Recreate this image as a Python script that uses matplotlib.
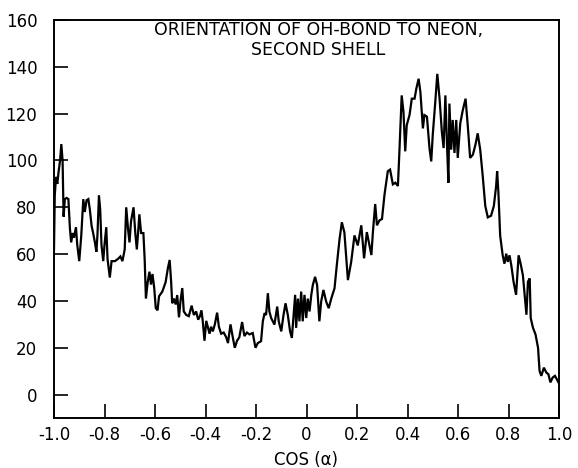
import matplotlib
matplotlib.use("Agg")
from matplotlib import pyplot as plt

# values
cos_alpha = [
  -1.0, -0.997, -0.992, -0.987, -0.982, -0.976, -0.971, -0.966, -0.962, -0.957,
  -0.95, -0.943, -0.937, -0.932, -0.926, -0.921, -0.913, -0.908, -0.9, -0.892,
  -0.884, -0.878, -0.871, -0.864, -0.858, -0.851, -0.845, -0.838, -0.832, -0.828,
  -0.822, -0.817, -0.812, -0.805, -0.8, -0.793, -0.788, -0.779, -0.772, -0.759,
  -0.746, -0.737, -0.729, -0.72, -0.714, -0.707, -0.701, -0.695, -0.685, -0.678,
  -0.672, -0.667, -0.662, -0.655, -0.646, -0.641, -0.636, -0.629, -0.622, -0.616,
  -0.61, -0.603, -0.597, -0.59, -0.584, -0.571, -0.558, -0.549, -0.542, -0.536,
  -0.532, -0.525, -0.518, -0.512, -0.505, -0.499, -0.492, -0.486, -0.476, -0.466,
  -0.455, -0.446, -0.437, -0.429, -0.422, -0.416, -0.411, -0.404, -0.397, -0.391,
  -0.384, -0.378, -0.371, -0.363, -0.354, -0.347, -0.338, -0.328, -0.318, -0.311,
  -0.301, -0.292, -0.284, -0.275, -0.266, -0.255, -0.246, -0.236,
  -0.226, -0.213, -0.202, -0.193, -0.180, -0.173, -0.166, -0.160, -0.153, -0.147,
  -0.140, -0.127, -0.116, -0.110, -0.100, -0.091, -0.083, -0.074, -0.065, -0.058,
  -0.051, -0.045, -0.041, -0.034, -0.028, -0.021, -0.015, -0.008, -0.001, 0.005,
  0.012, 0.019, 0.025, 0.034, 0.042, 0.051, 0.058, 0.067, 0.078, 0.088,
  0.098, 0.111, 0.120, 0.131, 0.140, 0.150, 0.164, 0.177, 0.190, 0.203,
  0.217, 0.228, 0.239, 0.257, 0.263, 0.272, 0.279, 0.289, 0.299,
  0.309, 0.322, 0.331, 0.342, 0.352, 0.362, 0.368, 0.377, 0.384, 0.391,
  0.397, 0.408, 0.417, 0.428, 0.435, 0.444, 0.451, 0.461, 0.467, 0.477,
  0.487, 0.494, 0.500, 0.510, 0.518, 0.527, 0.536, 0.543, 0.550, 0.556, 0.562,
  0.566, 0.573, 0.579, 0.586, 0.593, 0.599, 0.609, 0.619, 0.630, 0.639,
  0.648, 0.659, 0.669, 0.678, 0.688, 0.698, 0.708, 0.718, 0.731, 0.742,
  0.751, 0.755, 0.760, 0.767, 0.777, 0.784, 0.791, 0.797, 0.804, 0.811,
  0.820, 0.830, 0.840, 0.848, 0.857, 0.864, 0.871, 0.877, 0.884, 0.888,
  0.897, 0.907, 0.917, 0.923, 0.930, 0.940, 0.950, 0.958, 0.966, 0.975,
  0.984, 0.991, 0.998,
]
density = [
  62, 85, 93, 90, 95, 100, 107, 100, 76, 83.5,
  84, 83.5, 71, 65, 69, 67, 71.5, 64, 57, 68,
  83.5, 78, 83, 83.5, 79, 72, 69, 65, 61, 68,
  85, 79, 64, 57, 64, 71.5, 58, 50, 57, 57,
  58, 59, 57, 62, 80, 71, 65, 74, 80, 69,
  62, 69, 77, 69, 69, 58, 41, 48, 52.5, 47,
  51.5, 45.5, 37, 36, 42, 44, 48, 54, 57.5, 48,
  39, 41, 38.5, 42.5, 33, 40, 45.5, 35.5, 34, 33.5,
  38, 34, 35.5, 32, 33.5, 36, 31.5, 23, 31.5, 29,
  26, 29, 27, 30, 35, 29, 26, 26.5, 24.5, 22,
  30, 24.5, 20, 23, 24.5, 31, 25, 26.5,
  25.7, 26.3, 20, 22, 22.8, 31.3, 34.8, 34, 43.3, 35.5,
  32.7, 29.9, 37.6, 31.3, 27, 34, 39, 34, 27, 24.2,
  34, 42.6, 28.5, 41, 31.3, 44, 31.3, 42.6, 32.7, 41,
  35.5, 42.6, 46.8, 50.3, 46.8, 31.3, 39.7, 44.7, 39.7, 36.9,
  41, 45.4, 55.3, 66.5, 73.6, 69.3, 48.9, 56.7, 68, 63.7,
  72.3, 58.2, 69.4, 59.6, 69.4, 81.4, 72.3, 74.4, 75,
  85.5, 95.4, 96.1, 89.8, 90.5, 89.1, 103.9, 127.8, 120.8, 103.9,
  115.1, 119.4, 126.4, 126.4, 130.7, 134.9, 129.3, 113.7, 119.4, 118.7,
  105.3, 99.6, 110.9, 125, 137, 126.4, 112.3, 105.3, 127.8, 108.1, 90.5,
  124.3, 104.6, 117.3, 103.2, 117.3, 101.1, 115.9, 121.5, 126.4, 114.4,
  101.1, 102.5, 106.7, 111.6, 104.6, 93.3, 80.6, 75.7, 76.4, 80.6,
  89.1, 95.4, 86.3, 67.9, 59.5, 55.9, 60.2, 56.7, 59.5, 55.3,
  48.2, 42.6, 59.5, 55.9, 51, 42.6, 34.1, 48.2, 49.6, 32.7,
  28.5, 25.7, 20, 10.1, 8, 11.5, 9.4, 8.7, 5.2, 7.3,
  8, 6.6, 5.2,
]

xticks = [-1.0, -0.8, -0.6, -0.4, -0.2, 0, 0.2, 0.4, 0.6, 0.8, 1.0]
xlabels = ["-1.0", "-0.8", "-0.6", "-0.4", "-0.2", "0", "0.2", "0.4", "0.6", "0.8", "1.0"]
yticks = [0, 20, 40, 60, 80, 100, 120, 140, 160]

plt.rcParams['axes.unicode_minus'] = False
plt.rcParams['font.family'] = ['DejaVu Sans']

fig = plt.figure(figsize=(5.78, 4.68), dpi=100)
ax = fig.add_axes([54/578, 1 - 418/468, 505/578, 398/468])

ax.plot(cos_alpha, density, color='black', lw=1.6, solid_joinstyle='miter')

ax.set_xlim(-1.0, 1.0)
ax.set_ylim(-10, 160)
ax.set_xticks(xticks)
ax.set_xticklabels(xlabels)
ax.set_yticks(yticks)
ax.tick_params(axis='both', direction='in', length=10, width=1.2, labelsize=12)
ax.tick_params(axis='x', pad=6)
ax.tick_params(axis='y', pad=12)
for sp in ax.spines.values():
  sp.set_linewidth(1.4)

ax.set_xlabel("COS (α)", fontsize=12)
ax.xaxis.set_label_coords(0.5, -0.105)
ax.xaxis.label.set_va('center')

# title block sits inside the frame
ax.text(0.523, 0.962, "ORIENTATION OF OH-BOND TO NEON,", transform=ax.transAxes,
        ha='center', va='baseline', fontsize=12.5)
ax.text(0.523, 0.912, "SECOND SHELL", transform=ax.transAxes,
        ha='center', va='baseline', fontsize=12.5)

fig.savefig("out.png", dpi=100)
